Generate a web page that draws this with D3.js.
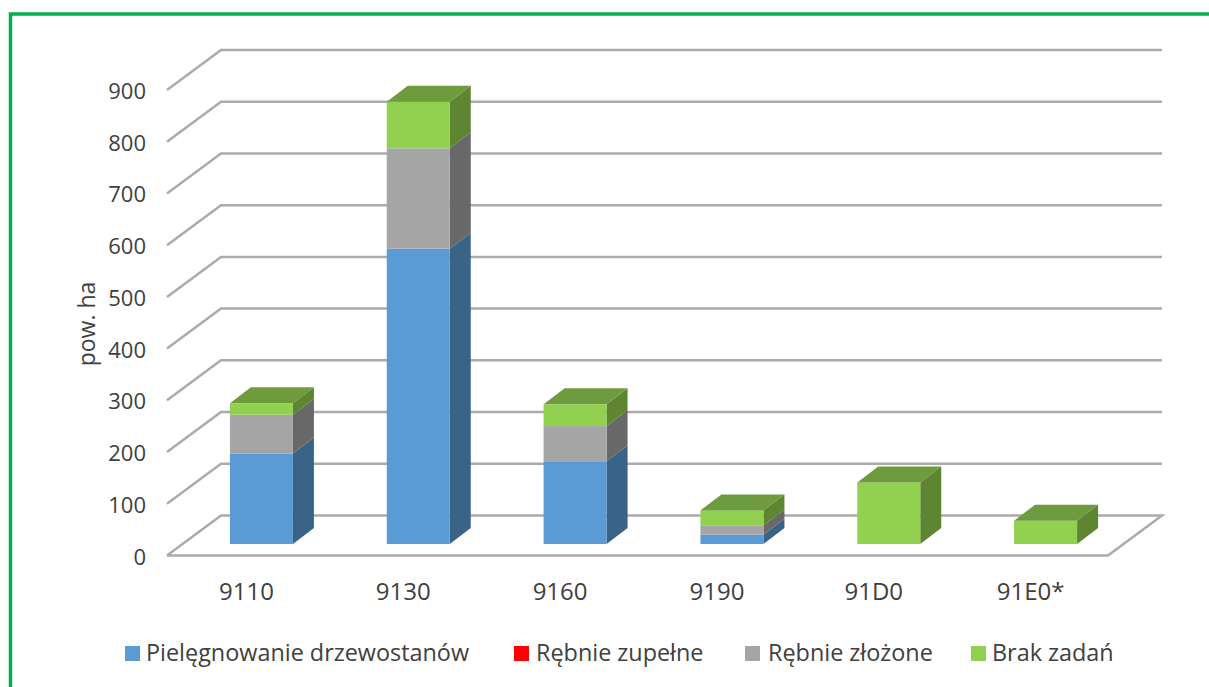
<!DOCTYPE html>
<html lang="pl"><head><meta charset="utf-8">
<style>html,body{margin:0;padding:0;background:#fff;overflow:hidden}text{font-family:"Open Sans",sans-serif;fill:#404040}</style>
<script src="https://cdn.jsdelivr.net/npm/d3@7"></script></head><body>
<svg id="c" width="1209" height="687"></svg>
<script>
const categories=["9110","9130","9160","9190","91D0","91E0*"];
const pielegnowanie=[175,571,160,18,0,0];
const zupelne=[0,0,0,0,0,0];
const zlozone=[75,194,68,18,0,0];
const brak=[22,90,42,29,119,45];
const yTicks=[0,100,200,300,400,500,600,700,800,900];
const seriesNames=["Pielęgnowanie drzewostanów","Rębnie zupełne","Rębnie złożone","Brak zadań"];
const seriesValues=[pielegnowanie,zupelne,zlozone,brak];
const frontColors=["#5B9BD5","#FF0000","#A5A5A5","#92D050"];
const sideColors=["#3A6388","#A00000","#686868","#5E8531"];
const topColors=["#44729C","#B00000","#7C7C7C","#6E9B3E"];

const svg=d3.select("#c");
svg.append("path").attr("d","M10.5,687V14H1209").attr("fill","none").attr("stroke","#00B050").attr("stroke-width",3.5);

const floorDX=54,floorDY=-40;
const y=d3.scaleLinear().domain([0,900]).range([555.5,90]);
const x=d3.scaleBand().domain(categories).range([167,1108]);
const barInset=(x.step()-63)/2;
const barShift=16,barLift=-11.5,dx=21,dy=-16;

const grid=svg.append("g").attr("fill","none").attr("stroke","#ABABAB").attr("stroke-width",2.5);
yTicks.forEach(t=>{
  const yy=y(t);
  const pts=[[167,yy],[167+floorDX,yy+floorDY],[1108+floorDX,yy+floorDY]];
  grid.append("path").attr("d",d3.line()(t===0?[...pts,[1108,yy],[167,yy]]:pts));
});

svg.append("g").selectAll("text").data(yTicks).join("text")
  .attr("x",146).attr("y",t=>y(t)+9).attr("text-anchor","end").attr("font-size",22).text(d=>d);
svg.append("g").selectAll("text").data(categories).join("text")
  .attr("x",c=>x(c)+x.bandwidth()/2+1).attr("y",600).attr("text-anchor","middle").attr("font-size",24).text(d=>d);
svg.append("text").attr("transform","translate(95,324) rotate(-90)").attr("text-anchor","middle").attr("font-size",23).text("pow. ha");

const scaleH=v=>y(0)-y(v);
const bars=svg.append("g");
categories.forEach((c,i)=>{
  const x0=x(c)+barInset+barShift,x1=x0+63;
  let cum=0;
  const base=y(0)+barLift;
  seriesValues.forEach((s,k)=>{
    const v=s[i];
    if(!v)return;
    const yb=base-scaleH(cum),yt=base-scaleH(cum+v);
    cum+=v;
    bars.append("path").attr("fill",sideColors[k])
      .attr("d",d3.line()([[x1,yb],[x1+dx,yb+dy],[x1+dx,yt+dy],[x1,yt]]));
    bars.append("rect").attr("x",x0).attr("y",yt).attr("width",63).attr("height",yb-yt).attr("fill",frontColors[k]);
  });
  const yt=base-scaleH(cum);
  const lastK=seriesValues.map(s=>s[i]>0).lastIndexOf(true);
  bars.append("path").attr("fill",topColors[lastK])
    .attr("d",d3.line()([[x0,yt],[x1,yt],[x1+dx,yt+dy],[x0+dx,yt+dy]]));
});

const legendX=[125,514,745,971],textX=[146,536,768,992];
const lg=svg.append("g");
seriesNames.forEach((n,k)=>{
  lg.append("rect").attr("x",legendX[k]).attr("y",646).attr("width",15).attr("height",15).attr("fill",frontColors[k]);
  lg.append("text").attr("x",textX[k]).attr("y",661).attr("font-size",23.4).text(n);
});
</script></body></html>
